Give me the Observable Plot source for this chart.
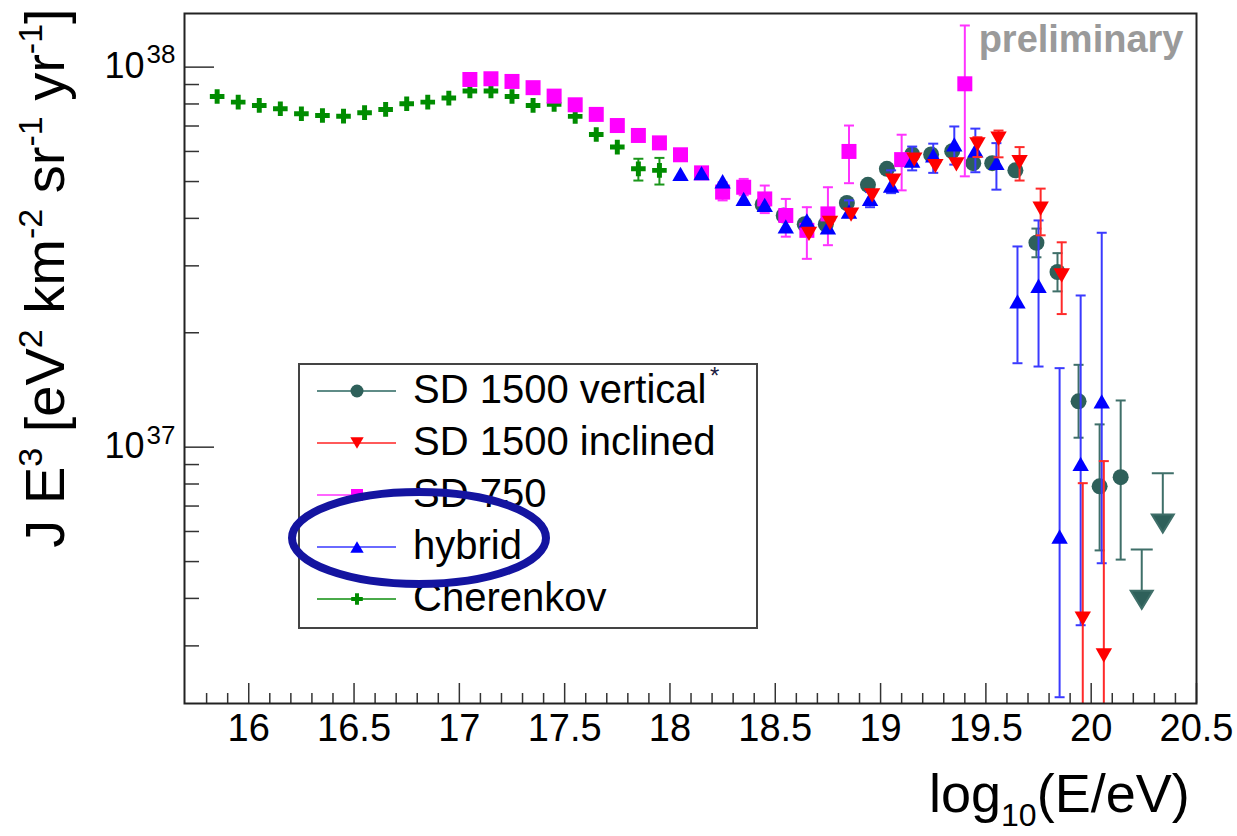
<!DOCTYPE html>
<html><head><meta charset="utf-8">
<script src="https://cdn.jsdelivr.net/npm/d3@7"></script>
<script src="https://cdn.jsdelivr.net/npm/@observablehq/plot@0.6"></script>
<style>body{margin:0;background:#fff;} #chart{width:1237px;height:836px;overflow:hidden;}</style>
</head><body><div id="chart"></div>
<script>
// ---------------- data (log10(E/eV), J E^3 in eV^2 km^-2 sr^-1 yr^-1) ----------------
const cherenkovE  = [15.85,15.95,16.05,16.15,16.25,16.35,16.45,16.55,16.65,16.75,16.85,16.95,17.05,17.15,17.25,17.35,17.45,17.55,17.65,17.75,17.85,17.95];
const cherenkovJ  = [8.37e37,8.09e37,7.93e37,7.77e37,7.54e37,7.46e37,7.43e37,7.59e37,7.74e37,8.01e37,8.09e37,8.29e37,8.65e37,8.65e37,8.37e37,7.93e37,7.98e37,7.42e37,6.65e37,6.16e37,5.40e37,5.35e37];
const cherenkovLo = [null,null,null,null,null,null,null,null,null,null,null,null,null,null,null,null,null,null,null,null,5.03e37,4.91e37];
const cherenkovHi = [null,null,null,null,null,null,null,null,null,null,null,null,null,null,null,null,null,null,null,null,5.74e37,5.77e37];

const sd750E  = [17.05,17.15,17.25,17.35,17.45,17.55,17.65,17.75,17.85,17.95,18.05,18.15,18.25,18.35,18.45,18.55,18.65,18.75,18.85,19.1,19.4];
const sd750J  = [9.28e37,9.32e37,9.17e37,8.83e37,8.39e37,7.96e37,7.51e37,7.02e37,6.61e37,6.32e37,5.88e37,5.27e37,4.69e37,4.83e37,4.50e37,4.07e37,3.72e37,4.11e37,6.00e37,5.71e37,9.04e37];
const sd750Lo = [null,null,null,null,null,null,null,null,null,null,null,null,4.46e37,4.60e37,4.13e37,3.58e37,3.13e37,3.40e37,4.95e37,4.74e37,5.16e37];
const sd750Hi = [null,null,null,null,null,null,null,null,null,null,null,null,4.98e37,5.08e37,4.88e37,4.50e37,4.28e37,4.83e37,7.02e37,6.64e37,1.287e38];

const verticalE  = [18.44,18.54,18.64,18.74,18.84,18.94,19.03,19.15,19.24,19.34,19.44,19.53,19.64,19.74,19.84,19.94,20.04,20.14];
const verticalJ  = [4.35e37,4.07e37,3.86e37,3.86e37,4.39e37,4.90e37,5.40e37,5.89e37,5.89e37,6.01e37,5.59e37,5.59e37,5.35e37,3.45e37,2.89e37,1.32e37,7.89e36,8.34e36];
const verticalLo = [null,null,null,null,null,null,null,null,null,null,null,null,null,3.16e37,2.57e37,1.059e37,5.35e36,5.06e36];
const verticalHi = [null,null,null,null,null,null,null,null,null,null,null,null,null,3.76e37,3.24e37,1.647e37,1.148e37,1.327e37];
const verticalLimitE = [20.24,20.34];
const verticalLimitJ = [5.38e36,8.54e36];

const inclinedE  = [18.66,18.76,18.86,18.96,19.06,19.16,19.26,19.36,19.46,19.56,19.66,19.76,19.86,19.96,20.06];
const inclinedJ  = [3.64e37,3.89e37,4.09e37,4.60e37,5.03e37,5.71e37,5.49e37,5.55e37,6.26e37,6.48e37,5.62e37,4.24e37,2.83e37,3.54e36,2.83e36];
const inclinedLo = [null,null,null,null,null,null,null,null,5.80e37,5.79e37,5.03e37,3.61e37,2.24e37,1.0e36,1.0e36];
const inclinedHi = [null,null,null,null,null,null,null,null,6.54e37,6.81e37,6.16e37,4.79e37,3.46e37,8.04e36,9.19e36];

const hybridE  = [18.05,18.15,18.25,18.35,18.45,18.55,18.65,18.75,18.85,18.95,19.05,19.15,19.25,19.35,19.45,19.55,19.65,19.75,19.85,19.95,20.05];
const hybridJ  = [5.24e37,5.26e37,5.01e37,4.50e37,4.34e37,3.81e37,3.95e37,3.79e37,4.17e37,4.50e37,4.88e37,5.68e37,5.86e37,6.26e37,6.04e37,5.60e37,2.42e37,2.66e37,5.82e36,9.04e36,1.32e37];
const hybridLo = [null,null,null,null,null,null,null,null,4.03e37,4.28e37,4.66e37,5.35e37,5.27e37,5.54e37,5.29e37,4.76e37,1.663e37,1.63e37,2.198e36,3.40e36,4.95e36];
const hybridHi = [null,null,null,null,null,null,null,null,4.46e37,4.69e37,5.35e37,6.18e37,6.29e37,6.98e37,6.89e37,6.31e37,3.374e37,3.95e37,1.614e37,2.507e37,3.666e37];

const xTickLabels = [16,16.5,17,17.5,18,18.5,19,19.5,20,20.5];
const yMajorTicks = [1e37,1e38];
const yMinorTicks = [3e36,4e36,5e36,6e36,7e36,8e36,9e36,2e37,3e37,4e37,5e37,6e37,7e37,8e37,9e37];

const seriesNames  = ["SD 1500 vertical","SD 1500 inclined","SD 750","hybrid","Cherenkov"];
const markerColors = ["#2e605a","#ff0000","#ff00ff","#0000ff","#008c00"];
const barColors    = ["#3f6f69","#ff2a2a","#ff33ff","#3a3aff","#1a961a"];
const legendLineColors = ["#5f8c87","#ff5a5a","#ff66ff","#6a6aff","#4aaa4a"];

// ---------------- symbols ----------------
const rad = s => Math.sqrt(s / Math.PI);
const sym = {
  square: {draw(c, s){ const r = rad(s); c.moveTo(-r,-r); c.lineTo(r,-r); c.lineTo(r,r); c.lineTo(-r,r); c.closePath(); }},
  triUp: {draw(c, s){ const r = rad(s), h = r*1.75; c.moveTo(0,-h/2); c.lineTo(r,h/2); c.lineTo(-r,h/2); c.closePath(); }},
  triDown: {draw(c, s){ const r = rad(s), h = r*1.75; c.moveTo(0,h/2); c.lineTo(r,-h/2); c.lineTo(-r,-h/2); c.closePath(); }},
  circle: {draw(c, s){ const r = rad(s); c.moveTo(r,0); c.arc(0,0,r,0,2*Math.PI); }},
  plus: {draw(c, s){ const r = rad(s), t = r*0.34;
    c.moveTo(-r,-t); c.lineTo(-t,-t); c.lineTo(-t,-r); c.lineTo(t,-r); c.lineTo(t,-t); c.lineTo(r,-t);
    c.lineTo(r,t); c.lineTo(t,t); c.lineTo(t,r); c.lineTo(-t,r); c.lineTo(-t,t); c.lineTo(-r,t); c.closePath(); }},
  cap: {draw(c, s){ const r = rad(s); c.moveTo(-r,0); c.lineTo(r,0); }},
  limit: {draw(c, s){ const r = rad(s), L = r*5.4, h = r*1.65;
    c.moveTo(-r,0); c.lineTo(r,0); c.moveTo(0,0); c.lineTo(0,L-h);
    c.moveTo(-r,L-h); c.lineTo(r,L-h); c.lineTo(0,L); c.closePath(); }}
};
const seriesSymbols = [sym.circle, sym.triDown, sym.square, sym.triUp, sym.plus];
const seriesR = [8, 8.2, 7.5, 8.2, 7.3];

const toRows = (E, J, lo, hi) => E.map((e, i) => ({x: e, y: J[i], lo: lo[i], hi: hi[i]}));
const series = [
  toRows(verticalE, verticalJ, verticalLo, verticalHi),
  toRows(inclinedE, inclinedJ, inclinedLo, inclinedHi),
  toRows(sd750E, sd750J, sd750Lo, sd750Hi),
  toRows(hybridE, hybridJ, hybridLo, hybridHi),
  toRows(cherenkovE, cherenkovJ, cherenkovLo, cherenkovHi)
];
const limits = verticalLimitE.map((e, i) => ({x: e, y: verticalLimitJ[i]}));

function seriesMarks(k) {
  const rows = series[k], err = rows.filter(d => d.lo != null);
  return [
    Plot.ruleX(err, {x: "x", y1: "lo", y2: "hi", stroke: barColors[k], strokeWidth: 2, clip: true}),
    Plot.dot(err, {x: "x", y: "lo", symbol: sym.cap, r: 5, stroke: barColors[k], strokeWidth: 2, fill: "none", clip: true}),
    Plot.dot(err, {x: "x", y: "hi", symbol: sym.cap, r: 5, stroke: barColors[k], strokeWidth: 2, fill: "none", clip: true}),
    Plot.dot(rows, {x: "x", y: "y", symbol: seriesSymbols[k], r: seriesR[k], fill: markerColors[k], stroke: "none"})
  ];
}

const xMinorTicks = d3.range(158, 205).map(v => v / 10).filter(v => !xTickLabels.includes(v));
const FONT = "'Liberation Sans', Arial, Helvetica, sans-serif";
const AX = "#333";

const plot = Plot.plot({
  width: 1237, height: 836,
  marginLeft: 184, marginRight: 41, marginTop: 13, marginBottom: 133,
  style: {fontFamily: FONT, background: "#fff", color: "#000"},
  x: {domain: [15.695, 20.5], label: null},
  y: {type: "log", domain: [2.116e36, 1.384e38], label: null},
  marks: [
    // inward ticks
    Plot.axisX({ticks: xMinorTicks, tickSize: 10, dy: -10, stroke: AX, strokeWidth: 1.5, fill: "none", label: null}),
    Plot.axisX({ticks: xTickLabels, tickSize: 20, dy: -20, stroke: AX, strokeWidth: 1.5, fill: "none", label: null}),
    Plot.axisX({ticks: xTickLabels, tickSize: 0, tickPadding: 11, fontSize: 38, tickFormat: d => String(d), label: null}),
    Plot.axisY({ticks: yMinorTicks, tickSize: 15, dx: 15, stroke: AX, strokeWidth: 1.5, fill: "none", label: null}),
    Plot.axisY({ticks: yMajorTicks, tickSize: 30, dx: 30, stroke: AX, strokeWidth: 1.5, fill: "none", label: null}),
    Plot.axisY({ticks: yMajorTicks, tickSize: 0, tickPadding: 40, fontSize: 36, tickFormat: () => "10", dy: -1, label: null}),
    Plot.axisY({ticks: yMajorTicks, tickSize: 0, tickPadding: 38, textAnchor: "start", fontSize: 26, tickFormat: d => String(Math.round(Math.log10(d))), dy: -12, label: null}),
    // data: drawing order green, teal, magenta, blue, red
    ...seriesMarks(4),
    ...seriesMarks(0),
    Plot.dot(limits, {x: "x", y: "y", symbol: sym.limit, r: 11, fill: markerColors[0], stroke: barColors[0], strokeWidth: 2}),
    ...seriesMarks(2),
    ...seriesMarks(3),
    ...seriesMarks(1),
    Plot.text(["preliminary"], {frameAnchor: "top-right", text: d => d, dx: -13, dy: 12, lineAnchor: "top", textAnchor: "end", fontSize: 38, fontWeight: "bold", fill: "#9a9a9a"}),
    Plot.frame({stroke: "#222", strokeWidth: 2})
  ]
});
document.getElementById("chart").appendChild(plot);

// ---------------- titles, legend, annotation ----------------
const svg = d3.select(plot);
// y title
const yt = svg.append("text").attr("transform", "translate(64,278) rotate(-90)")
  .attr("text-anchor", "middle").attr("font-size", 56).attr("font-family", FONT).attr("fill", "#000");
const yParts = [["J E",0],["3",1],[" [eV",0],["2",1],[" km",0],["-2",1],[" sr",0],["-1",1],[" yr",0],["-1",1],["]",0]];
let prevSup = 0;
yParts.forEach(([t, sup]) => {
  const ts = yt.append("tspan").text(t);
  if (sup) ts.attr("font-size", 34);
  const dy = (sup ? -22 : 0) - (prevSup ? -22 : 0);
  if (dy) ts.attr("dy", dy);
  prevSup = sup;
});
// x title
const xt = svg.append("text").attr("x", 929).attr("y", 812).attr("text-anchor", "start")
  .attr("font-size", 54).attr("font-family", FONT).attr("fill", "#000");
xt.append("tspan").text("log");
xt.append("tspan").text("10").attr("font-size", 32).attr("dy", 14);
xt.append("tspan").text("(E/eV)").attr("dy", -14);

// legend
const lg = svg.append("g").attr("font-family", FONT).attr("text-anchor", "start");
lg.append("rect").attr("x", 299).attr("y", 364).attr("width", 458).attr("height", 264)
  .attr("fill", "#fff").attr("stroke", "#444").attr("stroke-width", 2);
seriesNames.forEach((name, i) => {
  const y = 391 + i * 52;
  lg.append("line").attr("x1", 317).attr("x2", 396).attr("y1", y).attr("y2", y)
    .attr("stroke", legendLineColors[i]).attr("stroke-width", 2);
  lg.append("path").attr("transform", `translate(357,${y})`)
    .attr("d", d3.symbol(seriesSymbols[i], Math.PI * (seriesR[i] - 1.5) ** 2)()).attr("fill", markerColors[i]);
  lg.append("text").attr("x", 413).attr("y", y + 12).attr("font-size", 40).attr("fill", "#000").text(name);
});
lg.append("text").attr("x", 710).attr("y", 384).attr("font-size", 24).attr("fill", "#1a1a40").text("*");
// hand-drawn highlight around "hybrid"
svg.append("ellipse").attr("cx", 419).attr("cy", 538).attr("rx", 127).attr("ry", 46)
  .attr("fill", "none").attr("stroke", "#1414a0").attr("stroke-width", 8);
</script></body></html>
